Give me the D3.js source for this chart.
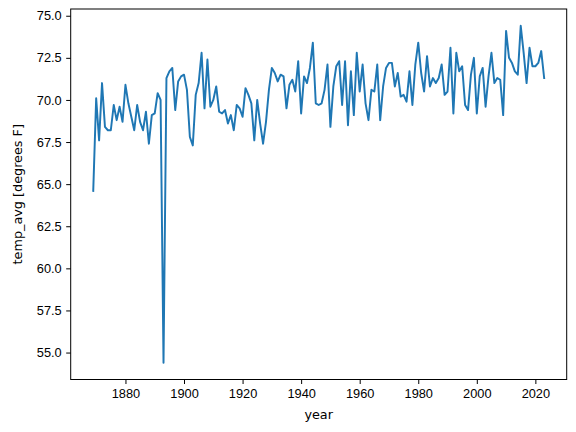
<!DOCTYPE html>
<html>
<head>
<meta charset="utf-8">
<script src="https://cdn.jsdelivr.net/npm/d3@7"></script>
<style>
  body { margin: 0; background: #fff; }
  svg { display: block; font-family: "DejaVu Sans", sans-serif; }
  .tick text { font-size: 12.8px; fill: #000; }
  .tick line { stroke: #000; stroke-width: 1; }
</style>
</head>
<body>
<svg></svg>
<script>
const width = 576;
const height = 432;

// yearly average temperature
const years = d3.range(1869, 2024);
const temps = [
  64.6, 70.1, 67.6, 71.0, 68.4, 68.2, 68.2, 69.7, 68.8, 69.6, 68.7,            // 1869-1879
  70.9, 69.8, 69.0, 68.2, 69.7, 68.7, 68.2, 69.3, 67.4, 69.1,                  // 1880-1889
  69.2, 70.4, 70.0, 54.4, 71.3, 71.7, 71.9, 69.4, 71.1, 71.4,                  // 1890-1899
  71.5, 70.6, 67.8, 67.3, 70.3, 71.0, 72.8, 69.5, 72.4, 69.6,                  // 1900-1909
  70.0, 70.8, 69.3, 69.2, 69.4, 68.6, 69.1, 68.2, 69.7, 69.5,                  // 1910-1919
  69.0, 70.7, 70.3, 69.8, 67.6, 70.0, 68.6, 67.4, 68.7, 70.6,                  // 1920-1929
  71.9, 71.6, 71.1, 71.5, 71.4, 69.5, 70.9, 71.2, 70.5, 72.3,                  // 1930-1939
  69.2, 71.4, 71.0, 71.9, 73.4, 69.8, 69.7, 69.8, 70.6, 72.1,                  // 1940-1949
  68.4, 70.8, 72.0, 72.3, 69.7, 72.3, 68.5, 71.7, 69.1, 72.8,                  // 1950-1959
  70.5, 72.1, 69.8, 68.8, 70.6, 70.5, 72.1, 68.8, 70.8, 71.9,                  // 1960-1969
  72.2, 72.2, 70.8, 71.6, 70.2, 70.3, 69.9, 71.7, 69.7, 72.1,                  // 1970-1979
  73.4, 71.6, 70.5, 72.6, 70.8, 71.3, 71.0, 71.3, 72.1, 70.3,                  // 1980-1989
  70.5, 73.1, 69.2, 72.8, 71.7, 72.0, 69.7, 69.4, 71.5, 72.5,                  // 1990-1999
  69.2, 71.4, 71.9, 69.6, 71.4, 72.8, 71.0, 71.3, 71.2, 69.1,                  // 2000-2009
  74.1, 72.5, 72.2, 71.7, 71.5, 74.4, 72.8, 71.0, 73.1, 72.0,                  // 2010-2019
  72.0, 72.2, 72.9, 71.3                                                       // 2020-2023
];

const xTicks = [1880, 1900, 1920, 1940, 1960, 1980, 2000, 2020];
const yTicks = [55.0, 57.5, 60.0, 62.5, 65.0, 67.5, 70.0, 72.5, 75.0];

const xLabel = 'year';
const yLabel = 'temp_avg [degrees F]';

const data = years.map((yr, i) => ({ year: yr, temp: temps[i] }));

const plotLeft = 70.7, plotRight = 566.7, plotTop = 9, plotBottom = 379.5;

// matplotlib style 5% margins
const pad = (ext) => {
  const m = (ext[1] - ext[0]) * 0.05;
  return [ext[0] - m, ext[1] + m];
};

const x = d3.scaleLinear()
  .domain(pad(d3.extent(years)))
  .range([plotLeft, plotRight]);

const y = d3.scaleLinear()
  .domain(pad(d3.extent(temps)))
  .range([plotBottom, plotTop]);

const svg = d3.select('svg')
  .attr('width', width)
  .attr('height', height);

svg.append('rect')
  .attr('width', width)
  .attr('height', height)
  .attr('fill', '#fff');

const line = d3.line()
  .x((d) => x(d.year))
  .y((d) => y(d.temp));

svg.append('path')
  .datum(data)
  .attr('fill', 'none')
  .attr('stroke', '#1f77b4')
  .attr('stroke-width', 1.95)
  .attr('stroke-linejoin', 'round')
  .attr('stroke-linecap', 'square')
  .attr('d', line);

const xAxis = svg.append('g')
  .attr('transform', `translate(0,${plotBottom})`)
  .call(d3.axisBottom(x).tickValues(xTicks).tickFormat(d3.format('d'))
    .tickSize(4.5).tickPadding(4.5));

const yAxis = svg.append('g')
  .attr('transform', `translate(${plotLeft},0)`)
  .call(d3.axisLeft(y).tickValues(yTicks).tickFormat(d3.format('.1f'))
    .tickSize(4.5).tickPadding(4.5));

xAxis.select('.domain').remove();
yAxis.select('.domain').remove();
xAxis.selectAll('text').attr('font-family', null).attr('font-size', null);
yAxis.selectAll('text').attr('font-family', null).attr('font-size', null);

// spines
svg.append('rect')
  .attr('x', plotLeft)
  .attr('y', plotTop)
  .attr('width', plotRight - plotLeft)
  .attr('height', plotBottom - plotTop)
  .attr('fill', 'none')
  .attr('stroke', '#000')
  .attr('stroke-width', 1);

svg.append('text')
  .attr('x', (plotLeft + plotRight) / 2)
  .attr('y', 419)
  .attr('text-anchor', 'middle')
  .attr('font-size', 12.8)
  .text(xLabel);

svg.append('text')
  .attr('transform', `translate(22,${(plotTop + plotBottom) / 2}) rotate(-90)`)
  .attr('text-anchor', 'middle')
  .attr('font-size', 12.8)
  .text(yLabel);
</script>
</body>
</html>
